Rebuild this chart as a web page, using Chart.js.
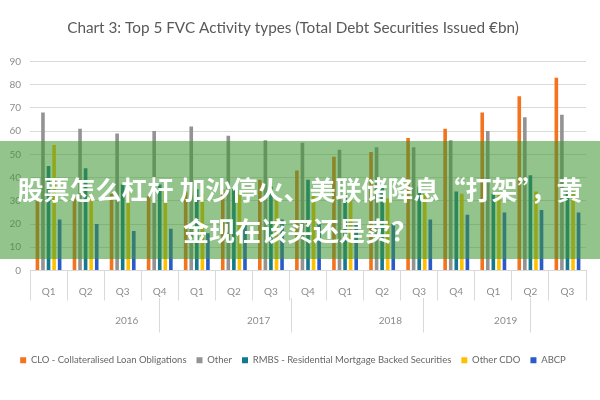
<!DOCTYPE html>
<html>
<head>
<meta charset="utf-8">
<script src="https://cdn.jsdelivr.net/npm/chart.js@4.4.1/dist/chart.umd.min.js"></script>
<style>
  html, body { margin: 0; padding: 0; background: #fff; }
  #wrap { position: relative; width: 600px; height: 400px; }
  #banner {
    position: absolute; left: 0; top: 141px; width: 600px; height: 118px;
    box-sizing: border-box; padding-top: 27px;
    background: rgba(60, 150, 50, 0.56);
    color: #fff; font-family: "Noto Sans CJK SC", sans-serif; font-weight: bold;
    font-size: 26px; line-height: 41px; text-align: center; white-space: nowrap;
  }
</style>
</head>
<body>
<div id="wrap">
  <canvas id="fvcChart" width="600" height="400"></canvas>
  <div id="banner">股票怎么杠杆 加沙停火、美联储降息“打架”，黄<br>金现在该买还是卖？</div>
</div>
<script>
// categories
const quarters = ['Q1', 'Q2', 'Q3', 'Q4', 'Q1', 'Q2', 'Q3', 'Q4', 'Q1', 'Q2', 'Q3', 'Q4', 'Q1', 'Q2', 'Q3'];
const years = ['2016', '2016', '2016', '2016', '2017', '2017', '2017', '2017',
               '2018', '2018', '2018', '2018', '2019', '2019', '2019'];

// series values (€bn)
const clo      = [30, 31, 33, 32, 34, 35, 39, 43, 49, 51, 57, 61, 68, 75, 83];
const other    = [68, 61, 59, 60, 62, 58, 56, 55, 52, 53, 53, 56, 60, 66, 67];
const rmbs     = [45, 44, 37, 37, 35, 36, 36, 39, 33, 36, 36, 34, 33, 41, 34];
const otherCdo = [54, 33, 34, 35, 33, 33, 31, 33, 31, 31, 33, 33, 33, 34, 34];
const abcp     = [22, 20, 17, 18, 16, 20, 22, 20, 20, 20, 22, 24, 25, 26, 25];

const yTicks = [0, 10, 20, 30, 40, 50, 60, 70, 80, 90];

// year group ticks: edges get a separator line, centres get the label
const yearTicks = [];
let start = 0;
for (let i = 1; i <= years.length; i++) {
  if (i === years.length || years[i] !== years[start]) {
    yearTicks.push({ value: start - 0.5, label: '', edge: true });
    yearTicks.push({ value: (start + i - 1) / 2, label: years[start], edge: false });
    start = i;
  }
}
yearTicks.push({ value: years.length - 0.5, label: '', edge: true });

const font = 'Lato, "Liberation Sans", sans-serif';
const gridGrey = '#d9d9d9';

const ctx = document.getElementById('fvcChart').getContext('2d');
new Chart(ctx, {
  type: 'bar',
  data: {
    labels: quarters,
    datasets: [
      { label: 'CLO - Collateralised Loan Obligations', data: clo, backgroundColor: '#f4731f' },
      { label: 'Other', data: other, backgroundColor: '#939393' },
      { label: 'RMBS - Residential Mortgage Backed Securities', data: rmbs, backgroundColor: '#16788c' },
      { label: 'Other CDO', data: otherCdo, backgroundColor: '#ffc000' },
      { label: 'ABCP', data: abcp, backgroundColor: '#2a5bc8' }
    ]
  },
  options: {
    responsive: false,
    animation: false,
    devicePixelRatio: 1,
    categoryPercentage: 0.75,
    barPercentage: 0.65,
    layout: { padding: { left: 0, right: 14, top: 0, bottom: 25 } },
    plugins: {
      title: {
        display: true,
        text: 'Chart 3: Top 5 FVC Activity types (Total Debt Securities Issued €bn)',
        color: '#595959',
        font: { family: font, size: 15.3, weight: 'normal' },
        padding: { top: 19, bottom: 24 }
      },
      legend: {
        position: 'bottom',
        labels: {
          boxWidth: 6, boxHeight: 6, padding: 10,
          color: '#666',
          font: { family: font, size: 9.5 }
        }
      },
      tooltip: { enabled: false }
    },
    scales: {
      y: {
        min: 0, max: 90,
        afterBuildTicks: axis => { axis.ticks = yTicks.map(v => ({ value: v })); },
        afterFit: axis => { axis.width = 30; },
        ticks: { color: '#8c8c8c', padding: 9, font: { family: font, size: 10 } },
        grid: { color: gridGrey, drawTicks: false },
        border: { display: false }
      },
      x: {
        weight: 1,
        afterFit: axis => { axis.height = 27; },
        ticks: { color: '#8c8c8c', padding: -15, autoSkip: false, maxRotation: 0, font: { family: font, size: 10 } },
        grid: { color: gridGrey, drawOnChartArea: false, tickLength: 30, offset: true },
        border: { color: gridGrey }
      },
      x2: {
        type: 'linear',
        position: 'bottom',
        weight: 2,
        min: -0.5,
        max: years.length - 0.5,
        afterBuildTicks: axis => { axis.ticks = yearTicks.map(t => ({ value: t.value })); },
        afterFit: axis => { axis.height = 48; },
        ticks: {
          color: '#8c8c8c', padding: -18, autoSkip: false, maxRotation: 0,
          font: { family: font, size: 10 },
          callback: (value, index) => yearTicks[index].label
        },
        grid: {
          drawOnChartArea: false, tickLength: 35,
          color: c => (yearTicks[c.index] && yearTicks[c.index].edge) ? gridGrey : 'rgba(0,0,0,0)'
        },
        border: { display: false }
      }
    }
  }
});
</script>
</body>
</html>
